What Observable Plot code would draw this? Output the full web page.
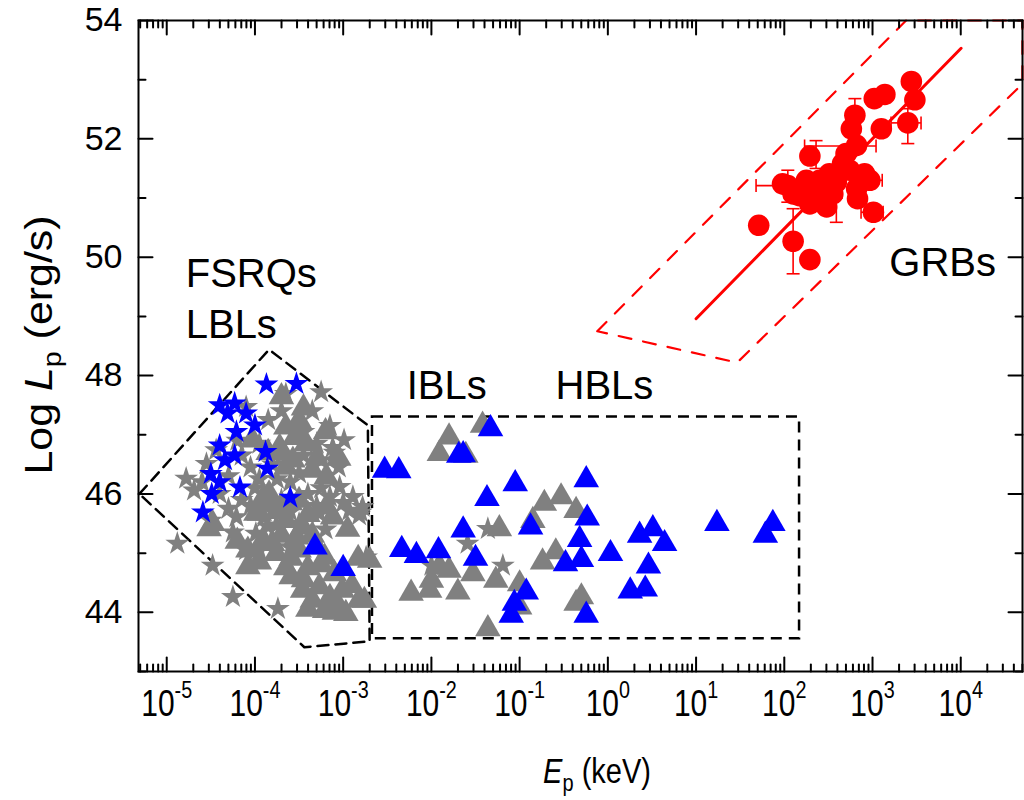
<!DOCTYPE html>
<html><head><meta charset="utf-8">
<script src="https://cdn.jsdelivr.net/npm/d3@7"></script>
<script src="https://cdn.jsdelivr.net/npm/@observablehq/plot@0.6"></script>
<style>
body{margin:0;background:#fff;}
#chart{width:1024px;height:800px;}
</style></head><body><div id="chart"></div>
<script>
// ---- data: [log10(Ep/keV), log Lp] ----
const grayStars = [
  [-3.25,47.72],[-3.65,47.69],[-2.99,46.91],[-3.12,46.78],[-4.78,46.26],[-4.69,46.06],[-3.25,46.57],[-3.19,46.31],
  [-3.04,46.12],[-2.89,45.95],[-2.80,45.69],[-4.44,46.74],[-4.55,46.51],[-4.10,47.47],[-4.88,45.16],[-4.48,44.79],
  [-4.25,44.26],[-3.74,44.06],[-4.10,45.05],[-2.82,45.64],[-2.93,45.72],[-3.27,45.67],[-3.87,45.78],[-4.21,45.61],
  [-3.99,45.33],[-3.76,45.47],[-4.30,46.30],[-4.00,46.10],[-3.80,46.50],[-3.60,46.20],[-3.40,46.00],[-3.70,45.90],
  [-3.90,45.60],[-3.50,45.50],[-4.15,45.90],[-3.30,45.80],[-4.50,45.55],[-4.40,46.00],[-3.95,46.85],[-3.55,47.10],
  [-3.85,47.25],[-3.35,47.40],[-4.20,46.90],[-4.05,46.45],[-3.45,46.65],[-3.15,45.95],[-3.60,45.70],[-4.30,45.75],
  [-3.75,46.25],[-4.60,46.20],[-3.05,46.45],
  [-3.95,46.25],[-3.70,46.65],[-3.50,46.35],[-3.25,46.10],[-3.85,45.45],[-3.60,45.10],[-4.05,45.80],[-3.30,46.85],
  [-3.45,47.05],[-4.15,46.65],[-3.20,45.40],[-3.00,45.85],[-3.95,45.05],[-4.25,45.35],[-3.10,46.70],[-3.70,47.40],
  [-3.15,47.15],
  [-1.36,45.41],[-1.59,45.16],[-1.19,44.79],[-2.00,44.79],[-2.78,45.78],[-2.74,44.93]
];
const grayTriangles = [
  [-3.70,47.64],[-3.50,47.24],[-3.65,47.13],[-3.42,46.85],[-3.72,46.79],[-3.57,46.57],[-4.03,46.91],[-3.35,46.40],
  [-3.19,45.78],[-3.50,45.89],[-3.80,45.84],[-3.99,45.67],[-3.12,45.61],[-4.52,45.41],[-4.08,44.77],[-3.80,45.16],
  [-3.59,44.91],[-3.59,44.60],[-3.46,44.37],[-3.27,44.43],[-3.21,44.03],[-3.01,44.37],[-2.97,43.98],[-2.82,44.20],
  [-2.70,44.88],[-2.83,44.91],[-3.53,45.27],[-3.21,44.93],[-3.95,45.67],[-3.65,46.45],[-3.19,46.29],[-3.84,46.00],
  [-3.65,45.55],[-3.46,45.44],[-4.08,45.05],[-3.76,44.99],[-3.91,45.22],[-4.48,45.50],[-3.40,44.75],[-3.10,44.65],
  [-3.30,45.10],[-3.05,44.10],[-3.35,44.20],
  [-3.85,46.70],[-3.55,46.95],[-3.30,46.60],[-3.60,45.85],[-3.40,45.65],[-3.75,45.70],[-3.90,45.95],[-3.35,45.30],
  [-3.70,45.30],[-3.50,45.05],[-3.25,44.80],[-3.65,44.75],[-3.45,44.55],[-3.15,44.25],[-2.90,44.45],[-3.10,44.00],
  [-3.45,47.45],[-3.20,47.05],[-3.05,46.60],[-2.95,45.40],[-4.20,45.20],[-3.95,44.85],[-3.40,44.05],
  [-1.42,47.16],[-1.80,46.96],[-1.91,46.68],[-1.61,46.65],[-0.72,45.84],[-0.53,45.95],[-0.36,45.72],[-0.85,45.55],
  [-1.23,45.41],[-0.59,45.02],[-0.74,44.85],[-1.91,44.77],[-1.80,44.71],[-1.53,44.65],[-1.27,44.54],[-2.00,44.54],
  [-2.23,44.32],[-2.02,44.37],[-1.70,44.34],[-1.00,44.48],[-1.00,44.09],[-0.30,44.26],[-0.36,44.15],[-1.36,43.72],
  [-2.76,44.20]
];
const blueStars = [
  [-3.87,47.85],[-3.53,47.86],[-4.40,47.50],[-4.23,47.53],[-4.31,47.36],[-4.10,47.36],[-4.00,47.16],[-4.21,47.05],
  [-4.40,46.82],[-4.23,46.65],[-3.88,46.71],[-3.86,46.43],[-4.50,46.34],[-4.40,46.20],[-4.17,46.11],[-4.49,46.00],
  [-3.60,45.94],[-4.59,45.69],[-4.34,46.57]
];
const blueTriangles = [
  [-3.32,45.10],[-3.00,44.74],
  [-1.33,47.10],[-1.69,46.65],[-1.64,46.66],[-2.53,46.40],[-2.37,46.39],[-1.05,46.17],[-1.37,45.92],[-0.245,46.24],
  [-0.234,45.59],[-0.876,45.44],[-1.64,45.39],[-0.32,45.23],[-2.336,45.06],[-2.17,44.96],[-1.92,45.04],[-1.50,44.91],
  [-0.30,44.89],[-0.48,44.82],[0.03,44.99],[0.36,45.30],[0.51,45.41],[0.643,45.16],[0.46,44.78],[0.254,44.36],
  [0.424,44.39],[1.236,45.50],[1.87,45.50],[1.785,45.30],[-0.925,44.34],[-1.06,44.15],[-1.095,43.95],[-0.245,43.95]
];
const grbPoints = [
  [1.71,50.54],[2.10,50.27],[2.29,49.96],[2.29,51.71],[2.04,51.21],[2.17,51.04],[2.32,51.18],[2.29,50.90],
  [2.48,50.85],[2.59,51.27],[2.70,51.75],[2.74,51.47],[2.82,51.16],[2.91,51.41],[2.97,51.30],[3.01,50.76],
  [2.80,52.40],[2.76,52.17],[2.82,51.89],[3.10,52.17],[3.02,52.68],[3.14,52.75],[3.44,52.97],[3.48,52.66],
  [3.40,52.27],[2.83,50.99],[2.55,51.07],[2.40,50.96],[2.10,51.07],[2.25,51.30],[2.66,51.58],[2.51,51.13],
  [2.51,51.41],[2.40,51.30],[1.98,51.24]
];
// horizontal error bars: [L, logE low, logE high]
const grbErrX = [[51.21,1.68,2.30],[51.88,2.23,3.04],[52.27,3.21,3.55],[50.76,2.87,3.12],[51.30,2.85,3.11]];
// vertical error bars: [logE, L low, L high]
const grbErrY = [[2.10,49.72,50.82],[2.04,50.93,51.47],[2.36,51.50,51.97],[2.80,52.12,52.68],[3.40,51.92,52.51],[2.59,50.59,51.00]];
// regions and fit
const fsrqRegion = [[-5.31,46.00],[-3.84,48.44],[-2.72,47.16],[-2.70,43.51],[-3.44,43.41],[-5.31,46.00]];
const hblBox = {e1: -2.668, e2: 2.173, l1: 43.555, l2: 47.30};
const grbRegion = [[-0.12,48.75],[3.381,54.0],[4.699,54.0],[4.699,52.93],[1.466,48.22],[-0.12,48.75]];
const grbFit = [[1.0,48.96],[4.004,53.53]];
const labels = [
  {t:"FSRQs", e:-4.785, l:49.50},
  {t:"LBLs",  e:-4.785, l:48.64},
  {t:"IBLs",  e:-2.28,  l:47.60},
  {t:"HBLs",  e:-0.593, l:47.60},
  {t:"GRBs",  e:3.19,   l:49.69}
];
const xExponents = [-5,-4,-3,-2,-1,0,1,2,3,4];
const yMajor = [44,46,48,50,52,54];
const yMinor = [43,45,47,49,51,53];

// ---- build ----
const X0 = 10 ** -5.32, X1 = 10 ** 4.70;
const rows = arr => arr.map(([e, l]) => ({E: 10 ** e, L: l}));
const xMajor = xExponents.map(e => 10 ** e);
const xMinor = [];
for (let d = -6; d <= 4; d++) for (let m = 2; m <= 9; m++) { const v = m * 10 ** d; if (v > X0 && v < X1) xMinor.push(v); }
const supMap = {"-":"⁻","0":"⁰","1":"¹","2":"²","3":"³","4":"⁴","5":"⁵","6":"⁶","7":"⁷","8":"⁸","9":"⁹"};
const fmtX = d => "10" + String(Math.round(Math.log10(d))).split("").map(c => supMap[c]).join("");
const tickShape = {draw(context, l) { context.moveTo(0, 0); context.lineTo(0, -l); }};
const capH = {draw(ctx, size) { const r = Math.sqrt(size / Math.PI); ctx.moveTo(-r, 0); ctx.lineTo(r, 0); }};
const capV = {draw(ctx, size) { const r = Math.sqrt(size / Math.PI); ctx.moveTo(0, -r); ctx.lineTo(0, r); }};
const FONT = "'Liberation Sans', Arial, Helvetica, sans-serif";

const errXRows = grbErrX.map(([l, a, b]) => ({L: l, E1: 10 ** a, E2: 10 ** b}));
const errYRows = grbErrY.map(([e, a, b]) => ({E: 10 ** e, L1: a, L2: b}));
const capsFromX = errXRows.flatMap(d => [{E: d.E1, L: d.L}, {E: d.E2, L: d.L}]);
const capsFromY = errYRows.flatMap(d => [{E: d.E, L: d.L1}, {E: d.E, L: d.L2}]);

const tickMarks = (vals, len) => [
  Plot.vector(vals, {x: d => d, frameAnchor: "bottom", length: len, rotate: 0, anchor: "start", shape: tickShape, stroke: "black", strokeWidth: 2}),
  Plot.vector(vals, {x: d => d, frameAnchor: "top", length: len, rotate: 180, anchor: "start", shape: tickShape, stroke: "black", strokeWidth: 2})
];
const tickMarksY = (vals, len) => [
  Plot.vector(vals, {y: d => d, frameAnchor: "left", length: len, rotate: 90, anchor: "start", shape: tickShape, stroke: "black", strokeWidth: 2}),
  Plot.vector(vals, {y: d => d, frameAnchor: "right", length: len, rotate: -90, anchor: "start", shape: tickShape, stroke: "black", strokeWidth: 2})
];

const chart = Plot.plot({
  width: 1024, height: 800,
  marginLeft: 138, marginRight: 2, marginTop: 20, marginBottom: 129,
  style: {fontFamily: FONT, background: "white", color: "black"},
  x: {type: "log", domain: [X0, X1]},
  y: {domain: [43, 54]},
  marks: [
    Plot.line(rows(fsrqRegion), {x: "E", y: "L", stroke: "black", strokeWidth: 2.5, strokeDasharray: "11,7"}),
    Plot.rect([hblBox], {x1: d => 10 ** d.e1, x2: d => 10 ** d.e2, y1: "l1", y2: "l2", fill: "none", stroke: "black", strokeWidth: 2.5, strokeDasharray: "11,7"}),
    Plot.line(rows(grbRegion), {x: "E", y: "L", stroke: "#ff0000", strokeWidth: 2.2, strokeDasharray: "13,12"}),
    Plot.line(rows(grbFit), {x: "E", y: "L", stroke: "#ff0000", strokeWidth: 3}),
    Plot.dot(rows(grayStars), {x: "E", y: "L", symbol: "star", r: 7.5, fill: "#808080"}),
    Plot.dot(rows(grayTriangles), {x: "E", y: "L", symbol: "triangle", r: 9.5, fill: "#808080"}),
    Plot.dot(rows(blueStars), {x: "E", y: "L", symbol: "star", r: 7.5, fill: "#0000ff"}),
    Plot.dot(rows(blueTriangles), {x: "E", y: "L", symbol: "triangle", r: 9.5, fill: "#0000ff"}),
    Plot.link(errXRows, {x1: "E1", x2: "E2", y1: "L", y2: "L", stroke: "#ff0000", strokeWidth: 1.6}),
    Plot.link(errYRows, {x1: "E", x2: "E", y1: "L1", y2: "L2", stroke: "#ff0000", strokeWidth: 1.6}),
    Plot.dot(capsFromX, {x: "E", y: "L", symbol: capV, r: 6.5, stroke: "#ff0000", strokeWidth: 1.6, fill: "none"}),
    Plot.dot(capsFromY, {x: "E", y: "L", symbol: capH, r: 6.5, stroke: "#ff0000", strokeWidth: 1.6, fill: "none"}),
    Plot.dot(rows(grbPoints), {x: "E", y: "L", symbol: "circle", r: 10.8, fill: "#ff0000"}),
    Plot.text(labels, {x: d => 10 ** d.e, y: "l", text: "t", textAnchor: "start", lineAnchor: "bottom", fontSize: 40, fill: "black"}),
    ...tickMarks(xMajor, 14), ...tickMarks(xMinor, 7),
    ...tickMarksY(yMajor, 14), ...tickMarksY(yMinor, 7),
    Plot.axisX(xMajor, {anchor: "bottom", tickSize: 0, tickPadding: 19, fontSize: 30, tickFormat: fmtX, label: null}),
    Plot.axisY(yMajor, {anchor: "left", tickSize: 0, tickPadding: 16, fontSize: 34, tickFormat: d => String(d), label: null}),
    Plot.frame({stroke: "black", strokeWidth: 2})
  ]
});
document.getElementById("chart").appendChild(chart);

// ---- text refinements: superscripts, font sizes, axis titles ----
const svg = chart.tagName.toLowerCase() === "svg" ? chart : chart.querySelector("svg");
const inv = Object.fromEntries(Object.entries(supMap).map(([k, v]) => [v, k]));
d3.select(svg).selectAll('g[aria-label="x-axis tick label"]').attr("font-size", 30).attr("font-family", FONT);
d3.select(svg).selectAll('g[aria-label="y-axis tick label"]').attr("font-size", 34).attr("font-family", FONT);
d3.select(svg).selectAll('g[aria-label="x-axis tick label"] text').each(function() {
  const s = this.textContent;
  if (!s.startsWith("10")) return;
  const ex = s.slice(2).split("").map(c => inv[c] ?? c).join("");
  const t = d3.select(this);
  t.text(null);
  t.append("tspan").text("10");
  t.append("tspan").attr("dy", "-0.75em").attr("font-size", "0.66em").text(ex);
  // the reference lettering is taller than wide: stretch vertically
  const tr = this.getAttribute("transform") || "";
  this.setAttribute("transform", tr + " scale(1,1.2)");
});
const g = d3.select(svg).append("g").attr("font-family", FONT).attr("fill", "black");
const yt = g.append("text").attr("transform", "translate(52,345) rotate(-90) scale(1.1,1)").attr("text-anchor", "middle").attr("font-size", 39);
yt.append("tspan").text("Log ");
yt.append("tspan").attr("font-style", "italic").text("L");
yt.append("tspan").attr("font-size", 26).attr("dy", 9).text("p");
yt.append("tspan").attr("dy", -9).text(" (erg/s)");
const xt = g.append("text").attr("transform", "translate(597,783) scale(1,1.2)").attr("text-anchor", "middle").attr("font-size", 29);
xt.append("tspan").attr("font-style", "italic").text("E");
xt.append("tspan").attr("font-size", 20).attr("dy", 7).text("p");
xt.append("tspan").attr("dy", -7).text(" (keV)");
</script></body></html>
